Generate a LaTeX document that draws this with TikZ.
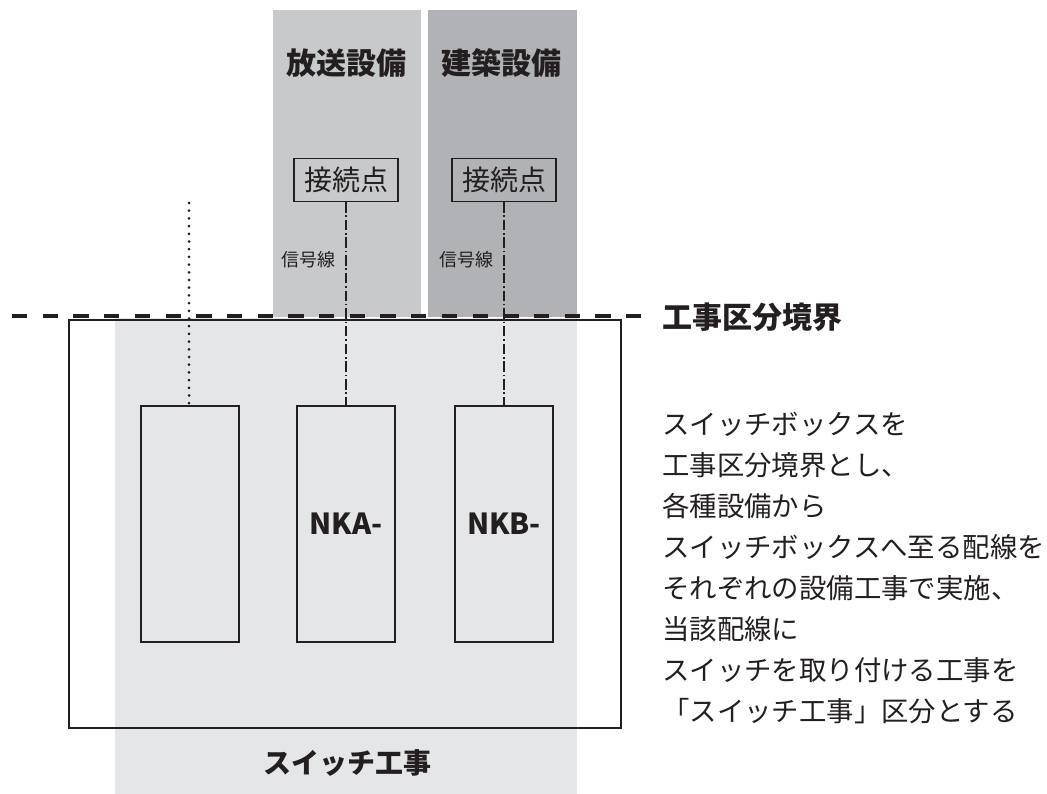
\documentclass[tikz,border=0pt]{standalone}
\usepackage{fontspec}
\setmainfont{Noto Sans CJK JP}
\usetikzlibrary{positioning}
\definecolor{inkblack}{HTML}{231F20}
\definecolor{housougray}{HTML}{C8C9CB}
\definecolor{kenchikugray}{HTML}{B1B2B5}
\definecolor{switchgray}{HTML}{E5E6E8}
\tikzset{
  heading/.style={text=inkblack,inner sep=0pt,font=\fontsize{30}{30}\selectfont\bfseries},
  pointbox/.style={draw=inkblack,line width=1.2pt,minimum width=104pt,minimum height=43pt,inner sep=0pt,text=inkblack,font=\fontsize{28}{28}\selectfont},
  swbox/.style={draw=inkblack,line width=1.2pt,minimum width=98pt,minimum height=236pt,inner sep=0pt,text=inkblack,font=\fontsize{29}{29}\selectfont\bfseries},
  siglabel/.style={text=inkblack,inner sep=0pt,font=\fontsize{18}{18}\selectfont},
  sigline/.style={draw=inkblack,line width=2pt,dash pattern=on 10.5pt off 2.8pt on 1.6pt off 2.8pt},
  dotline/.style={draw=inkblack,line width=3pt,line cap=round,dash pattern=on 0pt off 7.7pt},
}
\begin{document}
\begin{tikzpicture}[x=1pt,y=-1pt]
\useasboundingbox (0,0) rectangle (1047,794);

%backgrounds
\fill[housougray] (273,10) rectangle (421,317);
\fill[kenchikugray] (428,10) rectangle (577,317);
\fill[switchgray] (115,318) rectangle (577,794);

%outer box
\draw[inkblack,line width=1.4pt] (69,320) rectangle (621,728);

%headings
\node[heading] (housou) at (346,63) {放送設備};
\node[heading] (kenchiku) at (501,63) {建築設備};
\node[heading,font=\fontsize{28}{28}\selectfont\bfseries] (switchwork) at (347,763) {スイッチ工事};

%connection points
\node[pointbox] (pointA) at (346,180) {接続点};
\node[pointbox] (pointB) at (504,180) {接続点};

%switch boxes
\node[swbox] (swA) at (190,524) {};
\node[swbox] (swB) at (346,524) {NKA-};
\node[swbox] (swC) at (504,524) {NKB-};

%wiring
\coordinate (dotTop) at (189,203);
\draw[dotline] (dotTop) -- (swA.north -| dotTop);
\draw[sigline] (pointA.south) -- (swB.north -| pointA.south);
\draw[sigline] (pointB.south) -- (swC.north -| pointB.south);
\node[siglabel] (sigA) at (308,260) {信号線};
\node[siglabel] (sigB) at (466,260) {信号線};

%boundary
\coordinate (bndL) at (12,316.5);
\coordinate (bndR) at (642,316.5);
\draw[inkblack,line width=4pt,dash pattern=on 15.3pt off 15.4pt] (bndL) -- (bndR);
\node[heading,anchor=west] (boundary) at (662,317) {工事区分境界};

%note
\node[anchor=west,align=left,inner sep=0pt,text=inkblack,font=\fontsize{27.4}{41}\selectfont] (note) at (662,568)
  {スイッチボックスを\\工事区分境界とし、\\各種設備から\\スイッチボックスへ至る配線を\\それぞれの設備工事で実施、\\当該配線に\\スイッチを取り付ける工事を\\「スイッチ工事」区分とする};
\end{tikzpicture}
\end{document}
